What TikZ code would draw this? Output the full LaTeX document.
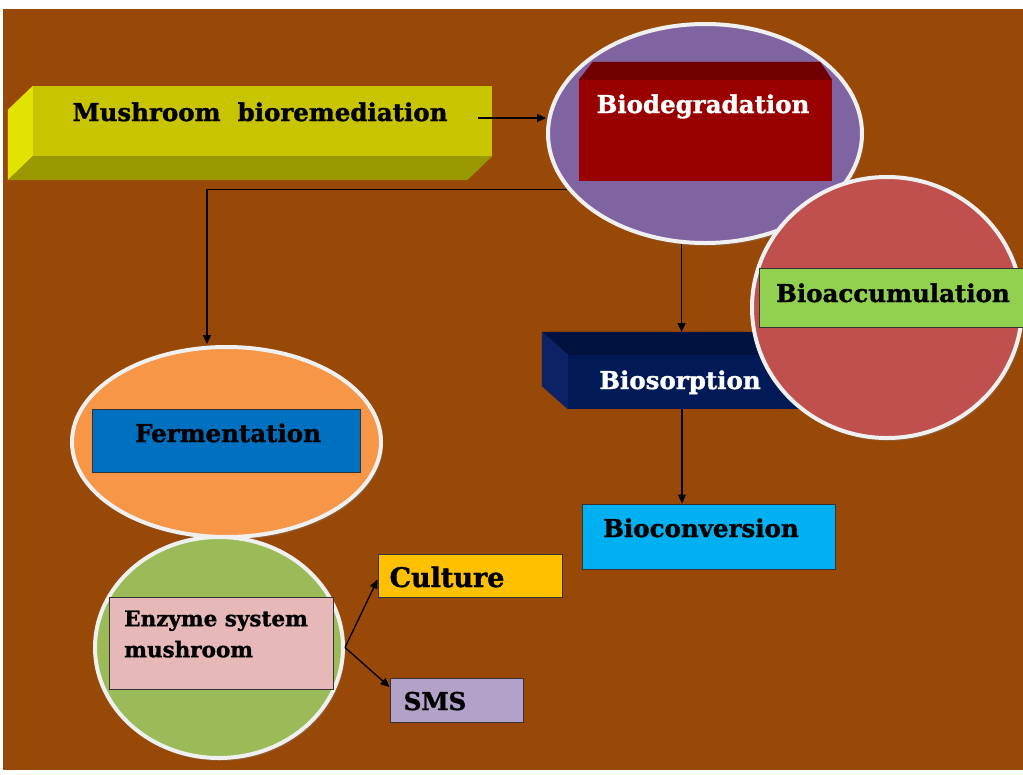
\documentclass[tikz,border=0pt]{standalone}
\usepackage{fontspec}
\newfontfamily\lblfont{DejaVu Serif}[BoldFeatures={FakeBold=1.3}]
\usetikzlibrary{shapes.geometric,arrows.meta,calc,shadows}

\definecolor{bgbrown}{HTML}{984807}
\definecolor{mushfront}{HTML}{C8C400}
\definecolor{mushside}{HTML}{E2E200}
\definecolor{mushbottom}{HTML}{9A9800}
\definecolor{purplefill}{HTML}{8064A2}
\definecolor{degfront}{HTML}{990000}
\definecolor{degtop}{HTML}{730000}
\definecolor{navyfront}{HTML}{001A57}
\definecolor{navytop}{HTML}{00123F}
\definecolor{navyside}{HTML}{0B2366}
\definecolor{redfill}{HTML}{C0504D}
\definecolor{limefill}{HTML}{92D050}
\definecolor{cyanfill}{HTML}{00B0F0}
\definecolor{orangefill}{HTML}{F79646}
\definecolor{bluefill}{HTML}{0070C0}
\definecolor{olivefill}{HTML}{9BBB59}
\definecolor{pinkfill}{HTML}{E6B9B8}
\definecolor{amberfill}{HTML}{FFC000}
\definecolor{lilacfill}{HTML}{B2A2C7}

\tikzset{
  lbl/.style={font=\lblfont\bfseries\fontsize{24.5}{29}\selectfont, inner sep=0pt, anchor=base},
  flat/.style={draw=black!80, line width=0.9pt, inner sep=0pt},
  face/.style={inner sep=0pt, draw=none},
  blob/.style={ellipse, draw=white!94!black, line width=4pt, inner sep=0pt,
    drop shadow={shadow xshift=2pt, shadow yshift=-3pt, opacity=0.35}},
  link/.style={draw=black, line width=1.3pt, -{Triangle[length=9pt,width=8pt]}}
}

\begin{document}
\begin{tikzpicture}[x=1pt,y=-1pt]
\useasboundingbox (0,0) rectangle (1023,774);
\fill[white] (0,0) rectangle (1023,774);
\fill[bgbrown] (3,9) rectangle (1023,770);

% Mushroom bioremediation: extruded bar
\node[face, fill=mushfront, minimum width=459pt, minimum height=70pt] (mush) at (262.5,121) {};
\fill[mushside] (mush.north west) -- (mush.south west) -- ++(-25,24) -- ($(mush.north west)+(-25,24)$) -- cycle;
\fill[mushbottom] (mush.south west) -- (mush.south east) -- ++(-25,24) -- ($(mush.south west)+(-25,24)$) -- cycle;
\node[lbl] (mushtxt) at (260,121) {Mushroom\ \ bioremediation};
\coordinate (mushout) at (478,118);

% Biodegradation ellipse with bevelled box
\node[blob, fill=purplefill, minimum width=314pt, minimum height=219pt] (pur) at (705,133.5) {};
\node[face, fill=degfront, minimum width=253pt, minimum height=101pt] (deg) at (705.5,130.5) {};
\fill[degtop] (deg.north west) -- ++(14,-18) -- ($(deg.north east)+(-12,-18)$) -- (deg.north east) -- cycle;
\node[lbl, text=white] (degtxt) at (703,113) {Biodegradation};

\draw[link] (mushout) -- (mushout -| pur.west);

% connectors leaving the ellipse
\draw[link] (pur.202) -- (pur.202 -| 207,0) -- (207,344);
\coordinate (sorptop) at (682,332);
\draw[link] (pur.-102) -- (pur.-102 |- sorptop);

% Biosorption: extruded bar
\node[face, fill=navyfront, minimum width=247pt, minimum height=54pt] (sorp) at (691.5,382) {};
\fill[navytop] (sorp.north west) -- ++(-26,-23) -- ($(sorp.north east)+(-26,-23)$) -- (sorp.north east) -- cycle;
\fill[navyside] (sorp.north west) -- (sorp.south west) -- ++(-26,-23) -- ($(sorp.north west)+(-26,-23)$) -- cycle;
\node[lbl, text=white] (sorptxt) at (680,389) {Biosorption};

% Bioaccumulation circle
\node[blob, fill=redfill, minimum width=270pt, minimum height=261pt] (acc) at (887,307.5) {};
\node[flat, fill=limefill, minimum width=270pt, minimum height=59pt, anchor=west] (accbox) at (759,297.5) {};
\node[lbl] (acctxt) at (893,302) {Bioaccumulation};

% Bioconversion
\node[flat, fill=cyanfill, minimum width=253pt, minimum height=65pt] (conv) at (708.5,536.5) {};
\node[lbl] (convtxt) at (701,537) {Bioconversion};
\draw[link] (sorptop |- sorp.south) -- (sorptop |- conv.north);

% Fermentation
\node[blob, fill=orangefill, minimum width=309pt, minimum height=190pt] (ferm) at (226.5,442) {};
\node[flat, fill=bluefill, minimum width=268pt, minimum height=63pt] (fermbox) at (226,440.5) {};
\node[lbl] (fermtxt) at (228,442) {Fermentation};

% Enzyme system mushroom
\node[blob, fill=olivefill, minimum width=248pt, minimum height=221pt] (enz) at (219,647.5) {};
\node[flat, fill=pinkfill, minimum width=224pt, minimum height=92pt] (enzbox) at (221,643) {};
\node[font=\lblfont\bfseries\fontsize{21.5}{31}\selectfont, align=left, inner sep=0pt, anchor=west] (enztxt) at (124,634) {Enzyme system\\mushroom};

% Culture and SMS
\node[flat, fill=amberfill, minimum width=184pt, minimum height=43pt] (cult) at (470,575.5) {};
\node[lbl, font=\lblfont\bfseries\fontsize{27}{30}\selectfont] (culttxt) at (447,587) {Culture};
\node[flat, fill=lilacfill, minimum width=133pt, minimum height=44pt] (sms) at (456.5,700) {};
\node[lbl] (smstxt) at (435,710) {SMS};

\draw[link] (enz.east) -- ($(cult.west)+(0,4)$);
\draw[link] (enz.east) -- ($(sms.west)+(0,-13)$);
\end{tikzpicture}
\end{document}
